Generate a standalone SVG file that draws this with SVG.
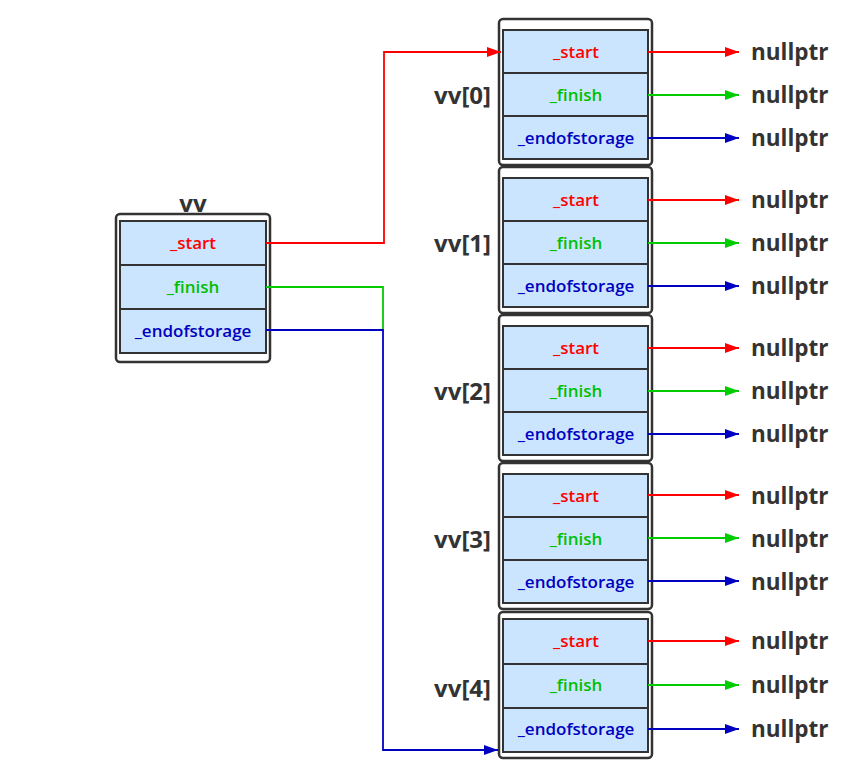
<svg xmlns="http://www.w3.org/2000/svg" width="864" height="771" viewBox="0 0 864 771">
<style>
.outer{fill:#fff;stroke:#333;stroke-width:2.5}
.cell{fill:#cce5ff;stroke:#333;stroke-width:2}
.t{font-family:"Open Sans","DejaVu Sans",sans-serif;font-size:17px;font-weight:600;text-anchor:middle}
.r{fill:#ff0000}.g{fill:#00c000}.b{fill:#0000c0}
.lbl{font-family:"Open Sans","DejaVu Sans",sans-serif;font-size:24px;font-weight:700;fill:#333}
.np{font-family:"Open Sans","DejaVu Sans",sans-serif;font-size:22.5px;font-weight:700;fill:#333}
.lr{stroke:#ff0000;stroke-width:1.8;fill:none}
.lg{stroke:#00cc00;stroke-width:1.8;fill:none}
.lb{stroke:#0000c0;stroke-width:1.8;fill:none}
</style>
<defs>
<marker id="ar" markerWidth="14" markerHeight="10" refX="14" refY="5" orient="auto" markerUnits="userSpaceOnUse"><path d="M0,0L14,5L0,10z" fill="#ff0000"/></marker>
<marker id="ag" markerWidth="14" markerHeight="10" refX="14" refY="5" orient="auto" markerUnits="userSpaceOnUse"><path d="M0,0L14,5L0,10z" fill="#00cc00"/></marker>
<marker id="ab" markerWidth="14" markerHeight="10" refX="14" refY="5" orient="auto" markerUnits="userSpaceOnUse"><path d="M0,0L14,5L0,10z" fill="#0000c0"/></marker>
</defs>
<g id="vv">
<text class="lbl" x="193" y="212" text-anchor="middle">vv</text>
<rect class="outer" x="116" y="214" width="154" height="148" rx="4"/>
<rect class="cell" x="120" y="221" width="146" height="44"/>
<rect class="cell" x="120" y="265" width="146" height="44"/>
<rect class="cell" x="120" y="309" width="146" height="44"/>
<text class="t r" x="193" y="249">_start</text>
<text class="t g" x="193" y="293">_finish</text>
<text class="t b" x="193" y="337">_endofstorage</text>
</g>
<g id="vv0" transform="translate(0,0)">
<text class="lbl" x="491" y="104" text-anchor="end">vv[0]</text>
<rect class="outer" x="499" y="19" width="153" height="146" rx="4"/>
<rect class="cell" x="503" y="30" width="145" height="43"/>
<rect class="cell" x="503" y="73" width="145" height="43"/>
<rect class="cell" x="503" y="116" width="145" height="43"/>
<text class="t r" x="576" y="58">_start</text>
<text class="t g" x="576" y="101">_finish</text>
<text class="t b" x="576" y="144">_endofstorage</text>
<text class="np" x="751" y="60">nullptr</text><text class="np" x="751" y="103">nullptr</text><text class="np" x="751" y="146">nullptr</text>
</g>
<g id="vv1" transform="translate(0,148)">
<text class="lbl" x="491" y="104" text-anchor="end">vv[1]</text>
<rect class="outer" x="499" y="19" width="153" height="146" rx="4"/>
<rect class="cell" x="503" y="30" width="145" height="43"/>
<rect class="cell" x="503" y="73" width="145" height="43"/>
<rect class="cell" x="503" y="116" width="145" height="43"/>
<text class="t r" x="576" y="58">_start</text>
<text class="t g" x="576" y="101">_finish</text>
<text class="t b" x="576" y="144">_endofstorage</text>
<text class="np" x="751" y="60">nullptr</text><text class="np" x="751" y="103">nullptr</text><text class="np" x="751" y="146">nullptr</text>
</g>
<g id="vv2" transform="translate(0,296)">
<text class="lbl" x="491" y="104" text-anchor="end">vv[2]</text>
<rect class="outer" x="499" y="19" width="153" height="146" rx="4"/>
<rect class="cell" x="503" y="30" width="145" height="43"/>
<rect class="cell" x="503" y="73" width="145" height="43"/>
<rect class="cell" x="503" y="116" width="145" height="43"/>
<text class="t r" x="576" y="58">_start</text>
<text class="t g" x="576" y="101">_finish</text>
<text class="t b" x="576" y="144">_endofstorage</text>
<text class="np" x="751" y="60">nullptr</text><text class="np" x="751" y="103">nullptr</text><text class="np" x="751" y="146">nullptr</text>
</g>
<g id="vv3" transform="translate(0,444)">
<text class="lbl" x="491" y="104" text-anchor="end">vv[3]</text>
<rect class="outer" x="499" y="19" width="153" height="146" rx="4"/>
<rect class="cell" x="503" y="30" width="145" height="43"/>
<rect class="cell" x="503" y="73" width="145" height="43"/>
<rect class="cell" x="503" y="116" width="145" height="43"/>
<text class="t r" x="576" y="58">_start</text>
<text class="t g" x="576" y="101">_finish</text>
<text class="t b" x="576" y="144">_endofstorage</text>
<text class="np" x="751" y="60">nullptr</text><text class="np" x="751" y="103">nullptr</text><text class="np" x="751" y="146">nullptr</text>
</g>
<g id="vv4" transform="translate(0,593)">
<text class="lbl" x="491" y="104" text-anchor="end">vv[4]</text>
<rect class="outer" x="499" y="19" width="153" height="146" rx="4"/>
<rect class="cell" x="503" y="26" width="145" height="45"/>
<rect class="cell" x="503" y="71" width="145" height="44"/>
<rect class="cell" x="503" y="115" width="145" height="44"/>
<text class="t r" x="576" y="54">_start</text>
<text class="t g" x="576" y="98">_finish</text>
<text class="t b" x="576" y="142">_endofstorage</text>
<text class="np" x="751" y="56">nullptr</text><text class="np" x="751" y="100">nullptr</text><text class="np" x="751" y="144">nullptr</text>
</g>
<g id="connectors">
<path class="lr" d="M266,243H384V52H501" marker-end="url(#ar)"/>
<path class="lg" d="M266,287H383V330"/>
<path class="lb" d="M266,330H383V750H498" marker-end="url(#ab)"/>
<path class="lr" d="M648,52H739" marker-end="url(#ar)"/><path class="lg" d="M648,95H739" marker-end="url(#ag)"/><path class="lb" d="M648,138H739" marker-end="url(#ab)"/>
<path class="lr" d="M648,200H739" marker-end="url(#ar)"/><path class="lg" d="M648,243H739" marker-end="url(#ag)"/><path class="lb" d="M648,286H739" marker-end="url(#ab)"/>
<path class="lr" d="M648,348H739" marker-end="url(#ar)"/><path class="lg" d="M648,391H739" marker-end="url(#ag)"/><path class="lb" d="M648,434H739" marker-end="url(#ab)"/>
<path class="lr" d="M648,495H739" marker-end="url(#ar)"/><path class="lg" d="M648,538H739" marker-end="url(#ag)"/><path class="lb" d="M648,581H739" marker-end="url(#ab)"/>
<path class="lr" d="M648,641H739" marker-end="url(#ar)"/><path class="lg" d="M648,685H739" marker-end="url(#ag)"/><path class="lb" d="M648,729H739" marker-end="url(#ab)"/>
</g>
</svg>
